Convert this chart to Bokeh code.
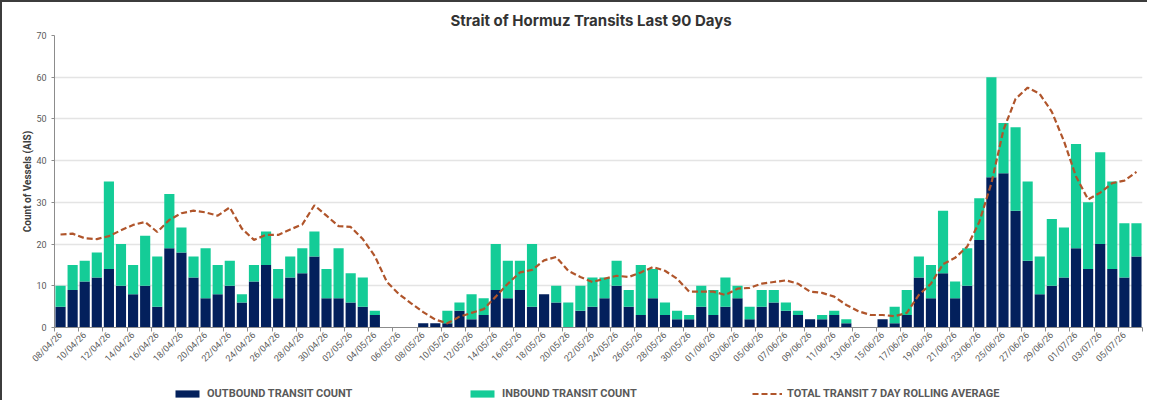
import math
from bokeh.plotting import figure
from bokeh.layouts import column
from bokeh.models import (ColumnDataSource, Range1d, FixedTicker, Legend, LegendItem, Title)
from bokeh.embed import file_html
from bokeh.resources import INLINE

# ---- data ----
outbound = [5, 9, 11, 12, 14, 10, 8, 10, 5, 19,
            18, 12, 7, 8, 10, 6, 11, 15, 7, 12,
            13, 17, 7, 7, 6, 5, 3, 0, 0, 0,
            1, 1, 1, 4, 2, 3, 9, 7, 9, 5,
            8, 6, 0, 4, 5, 7, 10, 5, 3, 7,
            3, 2, 2, 5, 3, 5, 7, 2, 5, 6,
            4, 3, 2, 2, 3, 1, 0, 0, 2, 1,
            3, 12, 7, 13, 7, 10, 21, 36, 37, 28,
            16, 8, 10, 12, 19, 14, 20, 14, 12, 17]
inbound = [5, 6, 5, 6, 21, 10, 7, 12, 12, 13,
           6, 5, 12, 7, 6, 2, 4, 8, 7, 5,
           6, 6, 7, 12, 7, 7, 1, 0, 0, 0,
           0, 0, 3, 2, 6, 4, 11, 9, 7, 15,
           0, 4, 6, 6, 7, 5, 6, 4, 12, 7,
           3, 2, 1, 5, 6, 7, 3, 3, 4, 3,
           2, 1, 0, 1, 1, 1, 0, 0, 0, 4,
           6, 5, 8, 15, 4, 9, 10, 24, 12, 20,
           19, 9, 16, 12, 25, 16, 22, 21, 13, 8]
rolling_avg = [22.3, 22.5, 21.4, 21.2, 21.9, 23.3, 24.6, 25.3, 22.9, 25.8,
               27.4, 28.0, 27.6, 26.8, 28.8, 23.7, 21.0, 22.2, 22.2, 23.5,
               24.7, 29.3, 26.8, 24.3, 24.1, 21.2, 17.1, 10.9, 8.0, 5.8,
               3.7, 1.9, 1.0, 2.6, 3.5, 4.4, 7.4, 10.5, 13.2, 13.8,
               16.1, 16.9, 13.6, 12.1, 10.9, 11.7, 12.4, 12.1, 13.2, 14.5,
               13.6, 11.7, 8.6, 8.6, 8.6, 7.8, 9.3, 9.5, 10.5, 10.9,
               11.3, 10.5, 8.6, 8.3, 7.4, 5.4, 3.9, 3.0, 3.0, 2.7,
               3.5, 7.8, 10.5, 15.2, 16.7, 19.4, 25.3, 34.6, 47.4, 54.8,
               57.5, 56.0, 51.7, 44.7, 36.2, 30.7, 32.3, 34.6, 35.2, 37.3]
tick_labels = ["08/04/26", "10/04/26", "12/04/26", "14/04/26", "16/04/26", "18/04/26",
               "20/04/26", "22/04/26", "24/04/26", "26/04/26", "28/04/26", "30/04/26",
               "02/05/26", "04/05/26", "06/05/26", "08/05/26", "10/05/26", "12/05/26",
               "14/05/26", "16/05/26", "18/05/26", "20/05/26", "22/05/26", "24/05/26",
               "26/05/26", "28/05/26", "30/05/26", "01/06/26", "03/06/26", "05/06/26",
               "07/06/26", "09/06/26", "11/06/26", "13/06/26", "15/06/26", "17/06/26",
               "19/06/26", "21/06/26", "23/06/26", "25/06/26", "27/06/26", "29/06/26",
               "01/07/26", "03/07/26", "05/07/26"]
y_ticks = [0, 10, 20, 30, 40, 50, 60, 70]
legend_labels = ["OUTBOUND TRANSIT COUNT", "INBOUND TRANSIT COUNT",
                 "TOTAL TRANSIT 7 DAY ROLLING AVERAGE"]

NAVY = "#03205C"
GREEN = "#14CC97"
LINE = "#B0552B"
GREY_TXT = "#595959"

n = len(outbound)
xs = [i + 0.5 for i in range(n)]
total = [o + b for o, b in zip(outbound, inbound)]
src = ColumnDataSource(dict(x=xs, out=outbound, inb=inbound, total=total, avg=rolling_avg))

p = figure(width=1145, height=385, output_backend="svg", toolbar_location=None,
           x_range=Range1d(0, n), y_range=Range1d(0, 70),
           min_border_left=52, min_border_right=5, min_border_top=25, min_border_bottom=60)

p.title = Title(text="Strait of Hormuz Transits Last 90 Days", align="left", offset=396,
                text_font="Inter", text_font_size="15px", text_font_style="bold",
                text_color="#333333", standoff=12)

p.vbar(x="x", top="out", bottom=0, width=0.84, color=NAVY, line_color=None, source=src)
p.vbar(x="x", top="total", bottom="out", width=0.84, color=GREEN, line_color=None, source=src)
p.line(x="x", y="avg", color=LINE, line_width=2.2, line_dash="6 3", source=src)

p.outline_line_color = None
p.xgrid.grid_line_color = None
p.ygrid.grid_line_color = "#E4E4E4"
p.ygrid.grid_line_width = 1.5

# y axis
p.yaxis.ticker = FixedTicker(ticks=y_ticks)
p.yaxis.axis_line_color = "#8C8C8C"
p.yaxis.major_tick_line_color = "#8C8C8C"
p.yaxis.major_tick_out = 3
p.yaxis.major_tick_in = 0
p.yaxis.minor_tick_line_color = None
p.yaxis.major_label_text_font = "Roboto"
p.yaxis.major_label_text_font_size = "9px"
p.yaxis.major_label_text_color = GREY_TXT
p.yaxis.major_label_standoff = 5
p.yaxis.axis_label = "Count of Vessels (AIS)"
p.yaxis.axis_label_text_font = "Roboto"
p.yaxis.axis_label_text_font_size = "10px"
p.yaxis.axis_label_text_font_style = "bold"
p.yaxis.axis_label_text_color = "#404040"
p.yaxis.axis_label_standoff = 0

# x axis
label_pos = [xs[2 * k] for k in range(len(tick_labels))]
boundaries = [2 * k for k in range(n // 2 + 1)]
p.xaxis.ticker = FixedTicker(ticks=label_pos, minor_ticks=boundaries)
p.xaxis.major_label_overrides = {pos: lab for pos, lab in zip(label_pos, tick_labels)}
p.xaxis.major_label_orientation = math.pi / 4
p.xaxis.axis_line_color = "#8C8C8C"
p.xaxis.major_tick_line_color = None
p.xaxis.major_tick_out = 3
p.xaxis.major_tick_in = 0
p.xaxis.minor_tick_line_color = "#8C8C8C"
p.xaxis.minor_tick_out = 4
p.xaxis.minor_tick_in = 0
p.xaxis.major_label_text_font = "Roboto"
p.xaxis.major_label_text_font_size = "9px"
p.xaxis.major_label_text_color = GREY_TXT
p.xaxis.major_label_standoff = 2

# ---- legend strip (separate figure below the chart; its frame aligns with the chart's) ----
lf = figure(width=1145, height=13, output_backend="svg", toolbar_location=None, title=None,
            x_range=Range1d(0, 1), y_range=Range1d(0, 1),
            x_axis_location=None, y_axis_location=None, min_border=0)
lf.outline_line_color = None
lf.grid.visible = False
# legend-only glyphs: their data lies far outside the strip's visible range
dummy = ColumnDataSource(dict(x=[-100, -99], top=[-100, -99], bottom=[-200, -200], y=[-100, -99]))
g_out = lf.vbar(x="x", top="top", bottom="bottom", width=1, color=NAVY, line_color=None, source=dummy)
g_in = lf.vbar(x="x", top="top", bottom="bottom", width=1, color=GREEN, line_color=None, source=dummy)
g_line = lf.line(x="x", y="y", color=LINE, line_width=2.2, line_dash="6 3", source=dummy)

for lab, rend, xloc in zip(legend_labels, [g_out, g_in, g_line], [118, 413, 698]):
    lg = Legend(items=[LegendItem(label=lab, renderers=[rend])], location=(xloc, 0),
                orientation="horizontal", padding=0, margin=0, spacing=0,
                border_line_alpha=0, background_fill_alpha=0,
                glyph_width=30, glyph_height=9, label_height=9, label_standoff=5,
                label_text_font="Roboto", label_text_font_size="11px",
                label_text_font_style="bold", label_text_color=GREY_TXT)
    lf.add_layout(lg, "center")

layout = column(p, lf, spacing=0)
layout.styles = {"border-left": "2px solid #3c3c3c", "border-top": "2px solid #3c3c3c"}

open("out.html", "w").write(file_html(layout, INLINE))
